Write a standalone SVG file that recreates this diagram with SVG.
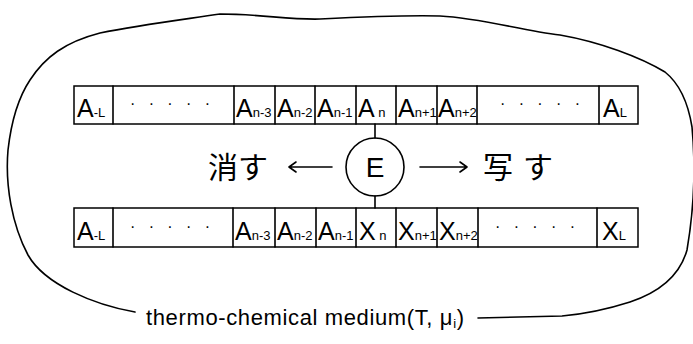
<svg xmlns="http://www.w3.org/2000/svg" width="693" height="344" viewBox="0 0 693 344">
<style>
.ln{fill:none;stroke:#000;stroke-width:1.6;stroke-linecap:round;stroke-linejoin:round}
.cell{fill:#fff;stroke:#000;stroke-width:1.5}
.t{font-family:"Liberation Sans",Arial,sans-serif;font-size:25px;fill:#000}
.s{font-size:13px}
.d{font-family:"Liberation Sans",Arial,sans-serif;font-size:16px;fill:#000}
.jp{font-family:"Noto Sans CJK JP",sans-serif;font-size:30px;fill:#000}
.cap{font-family:"Liberation Sans",Arial,sans-serif;font-size:22px;fill:#000}
</style>
<rect width="693" height="344" fill="#fff"/>
<g id="medium">
<path class="ln" d="M 135,312 C 95,305 45,285 28,255 C 12,225 5,185 8,150 C 12,115 20,95 30,80 C 45,57 65,42 100,33 C 140,25 180,20 220,14 C 260,14 290,20 320,19 C 360,17 400,15 440,16 C 480,18 520,30 560,35 C 600,42 640,57 665,72 C 680,84 688,102 692,127 C 696,170 693,215 687,250 C 680,275 660,292 630,302 C 605,310 585,314 562,316 L 478,318"/>
<text class="cap" x="146" y="325" textLength="318" lengthAdjust="spacing">thermo-chemical medium(T, μ<tspan class="s" dy="3">i</tspan><tspan dy="-3">)</tspan></text>
</g>
<g id="tape-top">
<rect class="cell" x="74" y="86" width="564" height="38"/>
<path class="ln" d="M113,86V124M234,86V124M275,86V124M315,86V124M356,86V124M396,86V124M437,86V124M477,86V124M599,86V124"/>
<text class="t" x="77" y="117">A<tspan class="s">-L</tspan></text>
<text class="d" x="130" y="109">·&#160;&#160;&#160;·&#160;&#160;&#160;·&#160;&#160;&#160;·&#160;&#160;&#160;·</text>
<text class="t" x="236" y="117">A<tspan class="s">n-3</tspan></text>
<text class="t" x="277" y="117">A<tspan class="s">n-2</tspan></text>
<text class="t" x="317" y="117">A<tspan class="s">n-1</tspan></text>
<text class="t" x="358" y="117">A<tspan class="s"> n</tspan></text>
<text class="t" x="398" y="117">A<tspan class="s">n+1</tspan></text>
<text class="t" x="438" y="117">A<tspan class="s">n+2</tspan></text>
<text class="d" x="500" y="109">·&#160;&#160;&#160;·&#160;&#160;&#160;·&#160;&#160;&#160;·&#160;&#160;&#160;·</text>
<text class="t" x="603" y="117">A<tspan class="s">L</tspan></text>
</g>
<g id="tape-bottom">
<rect class="cell" x="74" y="208" width="564" height="39"/>
<path class="ln" d="M113,208V247M233,208V247M275,208V247M316,208V247M356,208V247M396,208V247M437,208V247M478,208V247M597,208V247"/>
<text class="t" x="77" y="240">A<tspan class="s">-L</tspan></text>
<text class="d" x="130" y="232">·&#160;&#160;&#160;·&#160;&#160;&#160;·&#160;&#160;&#160;·&#160;&#160;&#160;·</text>
<text class="t" x="235" y="240">A<tspan class="s">n-3</tspan></text>
<text class="t" x="277" y="240">A<tspan class="s">n-2</tspan></text>
<text class="t" x="318" y="240">A<tspan class="s">n-1</tspan></text>
<text class="t" x="359" y="240">X<tspan class="s"> n</tspan></text>
<text class="t" x="398" y="240">X<tspan class="s">n+1</tspan></text>
<text class="t" x="439" y="240">X<tspan class="s">n+2</tspan></text>
<text class="d" x="495" y="232">·&#160;&#160;&#160;·&#160;&#160;&#160;·&#160;&#160;&#160;·&#160;&#160;&#160;·</text>
<text class="t" x="602" y="240">X<tspan class="s">L</tspan></text>
</g>
<g id="head-E">
<circle class="ln" cx="375" cy="167" r="29"/>
<text class="t" x="375" y="177" text-anchor="middle" style="font-size:28px">E</text>
</g>
<g id="erase">
<text class="jp" x="208" y="178">消す</text>
</g>
<g id="write">
<text class="jp" x="483" y="178">写<tspan dx="10">す</tspan></text>
</g>
<g id="connectors">
<path class="ln" d="M375,124V138M375,196V208"/>
<path class="ln" d="M332,167H289M296,162L289,167L296,172"/>
<path class="ln" d="M420,167H467M460,162L467,167L460,172"/>
</g>
</svg>
